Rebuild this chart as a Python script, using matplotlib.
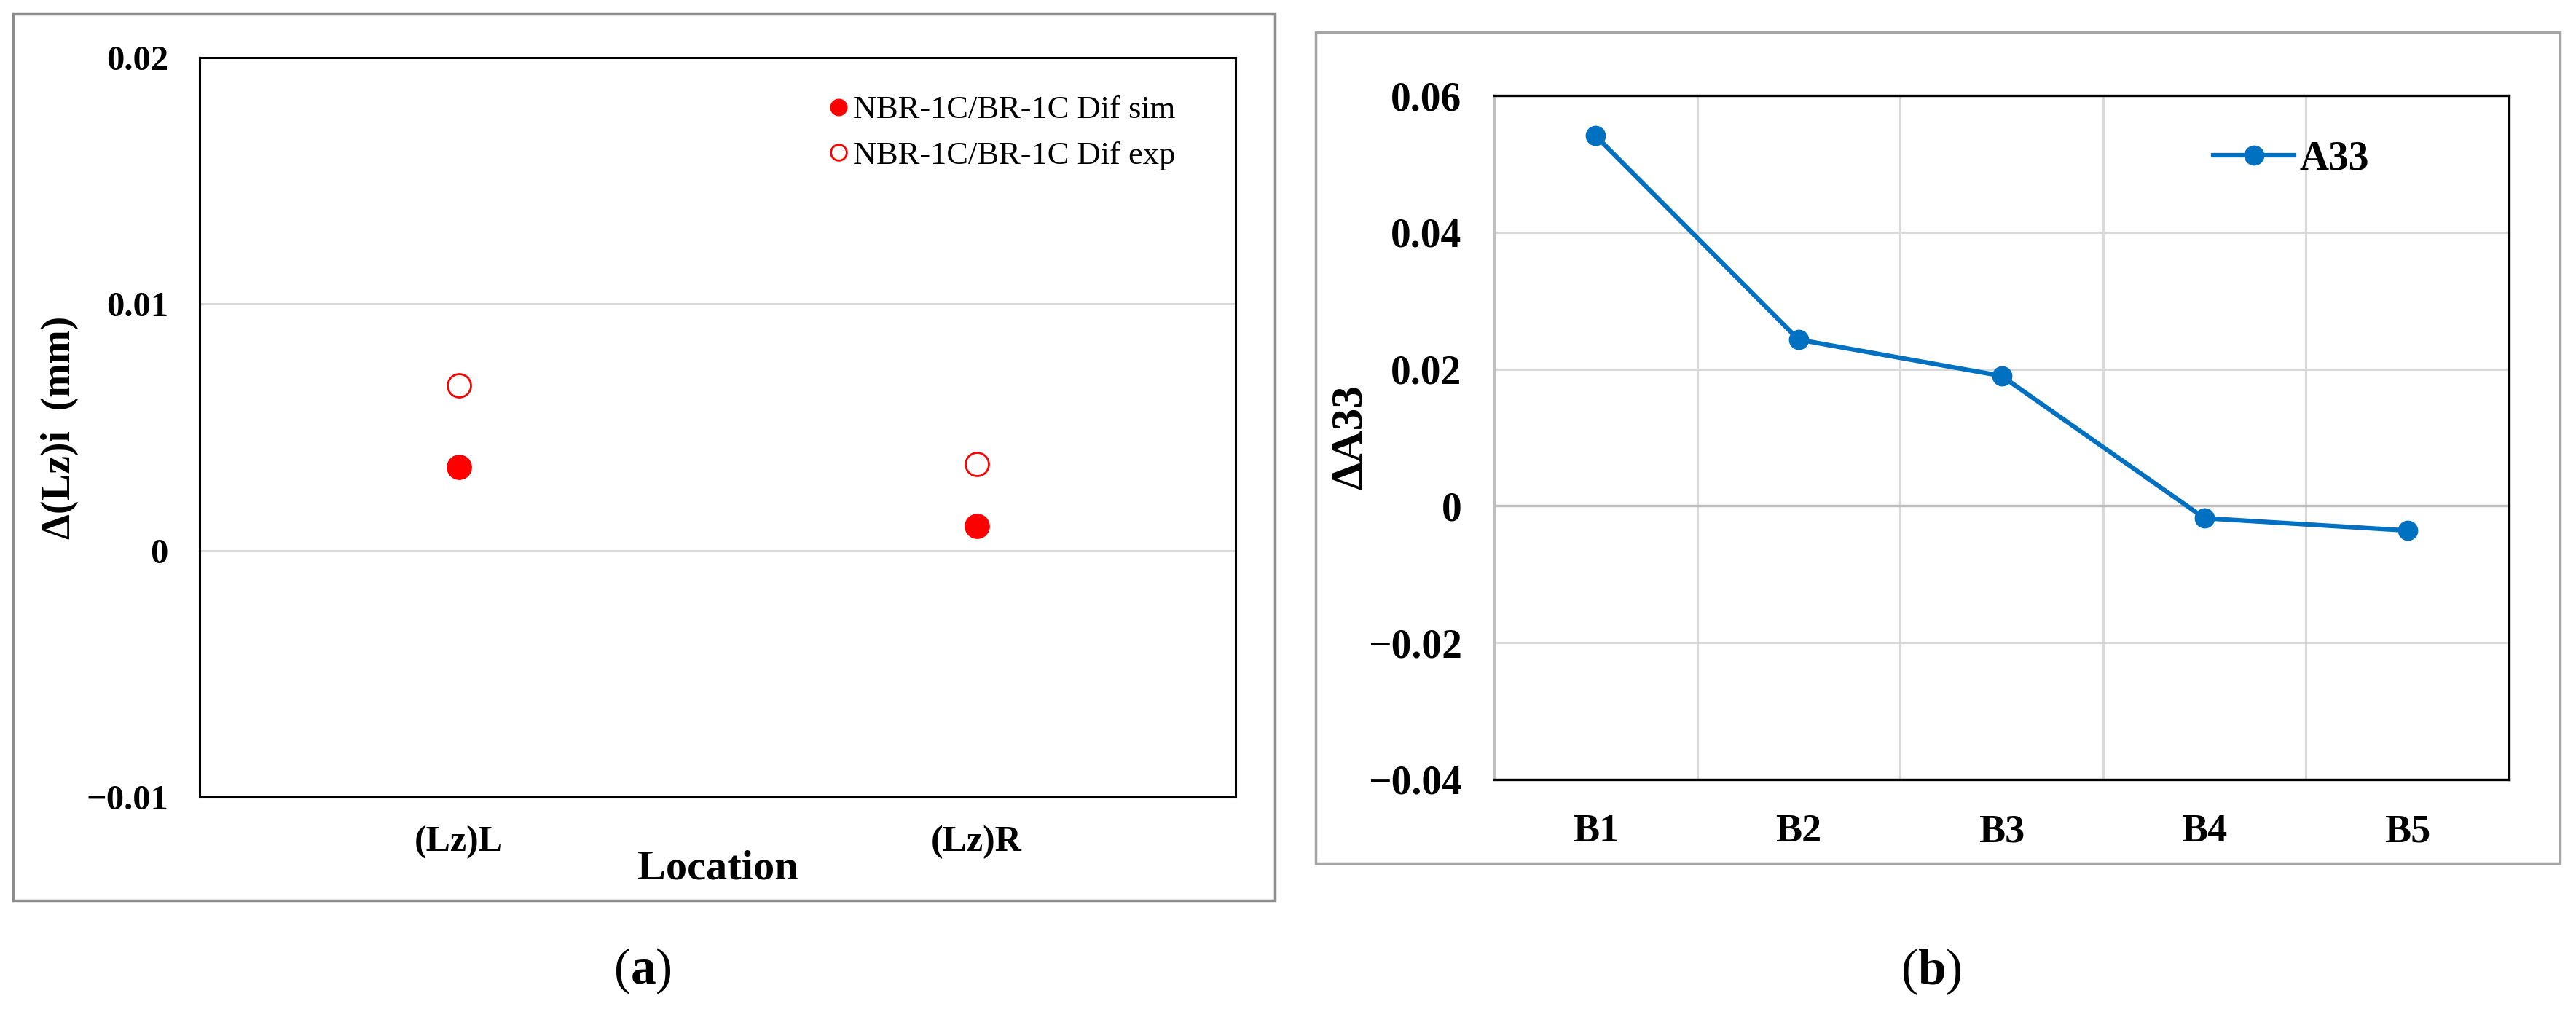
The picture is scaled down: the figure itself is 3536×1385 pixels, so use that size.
import matplotlib
matplotlib.use("Agg")
import matplotlib.pyplot as plt
from matplotlib.patches import Rectangle

plt.rcParams["font.family"] = ["Liberation Serif", "DejaVu Serif"]
plt.rcParams["mathtext.fontset"] = "custom"
plt.rcParams["mathtext.rm"] = "Liberation Serif"
plt.rcParams["mathtext.bf"] = "Liberation Serif:bold"

# --- data (a)
locations = ["(Lz)L", "(Lz)R"]
dif_sim = [0.0034, 0.0010]
dif_exp = [0.0067, 0.0035]
yticks_a = [0.02, 0.01, 0.0, -0.01]
ylabels_a = ["0.02", "0.01", "0", "\u22120.01"]

# --- data (b)
cases = ["B1", "B2", "B3", "B4", "B5"]
a33 = [0.0541, 0.0243, 0.0190, -0.0018, -0.0036]
yticks_b = [0.06, 0.04, 0.02, 0.0, -0.02, -0.04]
ylabels_b = ["0.06", "0.04", "0.02", "0", "\u22120.02", "\u22120.04"]

W, H = 3536, 1385
fig = plt.figure(figsize=(W / 100, H / 100), dpi=100)

# panel frames
fig.add_artist(Rectangle((18 / W, 1 - 1236 / H), 1732 / W, 1217 / H,
                         transform=fig.transFigure, fill=False,
                         edgecolor="#8c8c8c", lw=2.5))
fig.add_artist(Rectangle((1806 / W, 1 - 1185 / H), 1708 / W, 1141 / H,
                         transform=fig.transFigure, fill=False,
                         edgecolor="#a6a6a6", lw=2.5))

# ================= (a) =================
ax1 = fig.add_axes([274 / W, 1 - 1094 / H, 1422 / W, 1015 / H])
xa = list(range(len(locations)))
ax1.plot(xa, dif_sim, "o", color="red", ms=24, ls="none",
         label="NBR-1C/BR-1C Dif sim", zorder=3)
ax1.plot(xa, dif_exp, "o", mfc="white", mec="red", mew=2, ms=23, ls="none",
         label="NBR-1C/BR-1C Dif exp", zorder=3)
ax1.set_xlim(-0.5, 1.5)
ax1.set_ylim(-0.01, 0.02)
ax1.set_yticks(yticks_a)
ax1.set_yticklabels(ylabels_a, fontsize=35, fontweight="bold")
ax1.set_xticks(xa)
ax1.set_xticklabels(locations, fontsize=36, fontweight="bold")
ax1.tick_params(axis="y", length=0, pad=31)
ax1.tick_params(axis="x", length=0, pad=28)
ax1.yaxis.grid(True, color="#d9d9d9", lw=2.2)
ax1.set_axisbelow(True)
for s in ax1.spines.values():
    s.set_color("black")
    s.set_linewidth(2.2)

ax1.set_ylabel("\u0394(Lz)i  (mm)", fontsize=40, fontweight="bold", va="center")
ax1.yaxis.set_label_coords(-0.135, 0.5)
ax1.set_xlabel("Location", fontsize=42, fontweight="bold", va="center")
ax1.xaxis.set_label_coords(0.5, -0.0975)

ax1.legend(loc="center left", bbox_to_anchor=(0.609, 0.898), frameon=False,
           fontsize=32, handlelength=0.5, handletextpad=0.2, borderpad=0,
           borderaxespad=0, labelspacing=0.5, markerscale=0.68)

# ================= (b) =================
ax2 = fig.add_axes([2051 / W, 1 - 1070 / H, 1393 / W, 939 / H])
xb = list(range(len(cases)))
ax2.plot(xb, a33, "-o", color="#0070C0", lw=4.5, ms=19, label="A33", zorder=3)
ax2.set_xlim(-0.5, 4.5)
ax2.set_ylim(-0.04, 0.06)
ax2.set_yticks(yticks_b)
ax2.set_yticklabels(ylabels_b, fontsize=40, fontweight="bold")
ax2.set_xticks(xb)
ax2.set_xticklabels(cases, fontsize=39, fontweight="bold")
ax2.set_xticks([0.5, 1.5, 2.5, 3.5], minor=True)
ax2.tick_params(axis="y", length=0, pad=32)
ax2.tick_params(axis="x", which="both", length=0, pad=34)
ax2.yaxis.grid(True, color="#d9d9d9", lw=2.2)
ax2.xaxis.grid(True, which="minor", color="#d9d9d9", lw=2.2)
ax2.axhline(0, color="#bfbfbf", lw=2.4, zorder=1)
ax2.set_axisbelow(True)
for name, s in ax2.spines.items():
    s.set_color("black")
    s.set_linewidth(2.4)
ax2.spines["left"].set_color("#bfbfbf")

ax2.set_ylabel("\u0394A33", fontsize=44, fontweight="bold", va="center")
ax2.yaxis.set_label_coords(-0.142, 0.5)

ax2.legend(loc="center left", bbox_to_anchor=(0.7086, 0.9073), frameon=False,
           prop={"size": 40, "weight": "bold"},
           handlelength=2.0, handletextpad=0.13, borderpad=0, borderaxespad=0)

# panel captions
fig.text(882 / W, 1 - 1333 / H, r"($\mathbf{a}$)", fontsize=50, ha="center", va="center")
fig.text(2651 / W, 1 - 1334 / H, r"($\mathbf{b}$)", fontsize=50, ha="center", va="center")

fig.savefig("out.png", dpi=100)
